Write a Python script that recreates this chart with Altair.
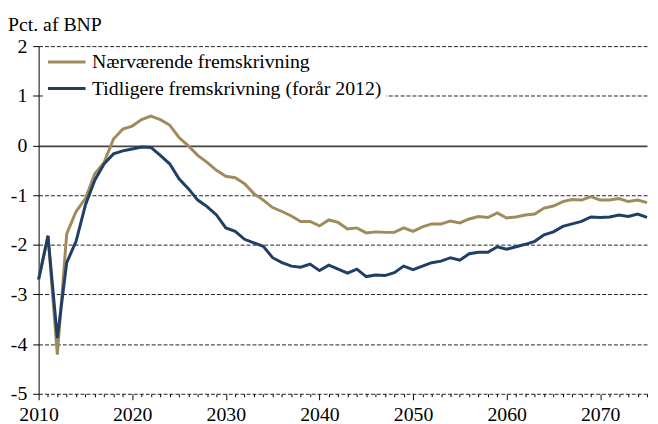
import altair as alt
import pandas as pd

years = list(range(2010, 2076))

naervaerende = [
    -2.70, -1.82, -4.21, -1.78, -1.33, -1.07, -0.57, -0.34, 0.13, 0.33,
    0.39, 0.52, 0.59, 0.52, 0.41, 0.16, -0.01, -0.20, -0.34, -0.50,
    -0.62, -0.65, -0.77, -0.97, -1.10, -1.25, -1.33, -1.42, -1.53, -1.53,
    -1.62, -1.50, -1.55, -1.68, -1.66, -1.76, -1.74, -1.75, -1.75, -1.66,
    -1.73, -1.64, -1.58, -1.58, -1.52, -1.56, -1.48, -1.43, -1.45, -1.36,
    -1.46, -1.44, -1.40, -1.38, -1.26, -1.22, -1.13, -1.09, -1.10, -1.03,
    -1.10, -1.10, -1.07, -1.13, -1.10, -1.15,
]

tidligere = [
    -2.70, -1.82, -3.88, -2.36, -1.93, -1.20, -0.70, -0.37, -0.17, -0.11,
    -0.07, -0.03, -0.04, -0.20, -0.37, -0.67, -0.87, -1.10, -1.23, -1.40,
    -1.66, -1.73, -1.89, -1.96, -2.03, -2.26, -2.36, -2.43, -2.45, -2.39,
    -2.52, -2.41, -2.49, -2.57, -2.49, -2.64, -2.61, -2.62, -2.56, -2.43,
    -2.50, -2.43, -2.36, -2.33, -2.26, -2.31, -2.18, -2.15, -2.15, -2.04,
    -2.09, -2.04, -1.99, -1.93, -1.80, -1.74, -1.63, -1.58, -1.53, -1.44,
    -1.45, -1.44, -1.40, -1.43, -1.38, -1.45,
]

series_names = ["Nærværende fremskrivning", "Tidligere fremskrivning (forår 2012)"]
series_colors = ["#A08B5C", "#1F3F66"]
y_ticks = [-5, -4, -3, -2, -1, 0, 1, 2]
title_text = "Pct. af BNP"

FONT = "'Liberation Serif', 'Times New Roman', Times, serif"
FS = 20

df = pd.DataFrame({
    "year": years + years,
    "value": naervaerende + tidligere,
    "series": [series_names[0]] * len(years) + [series_names[1]] * len(years),
})

lines = alt.Chart(df).mark_line(strokeWidth=3).encode(
    x=alt.X(
        "year:Q",
        scale=alt.Scale(domain=[2010, 2075], nice=False, zero=False),
        axis=alt.Axis(
            title=None,
            values=years,
            labelExpr="datum.value % 10 == 0 ? datum.value : ''",
            labelFlush=False,
            labelOverlap=False,
            labelFont=FONT,
            labelFontSize=FS,
            labelColor="black",
            labelPadding=5,
            tickColor="black",
            tickSize={"condition": {"test": "datum.value % 10 == 0", "value": 6}, "value": 3},
            domain=False,
            grid=False,
        ),
    ),
    y=alt.Y(
        "value:Q",
        scale=alt.Scale(domain=[-5, 2], nice=False, zero=False),
        axis=alt.Axis(
            title=None,
            values=y_ticks,
            labelExpr="datum.value < 0 ? '-' + abs(datum.value) : '' + datum.value",
            labelFont=FONT,
            labelFontSize=FS,
            labelColor="black",
            labelPadding=6,
            tickColor="black",
            tickSize=6,
            domain=True,
            domainColor="black",
            domainWidth=1,
            grid=True,
            gridColor={"condition": {"test": "datum.value === 0", "value": "#444444"}, "value": "#222222"},
            gridDash={"condition": {"test": "datum.value === 0", "value": []}, "value": [4, 2]},
            gridWidth={"condition": {"test": "datum.value === 0", "value": 1.6}, "value": 1},
            gridOpacity=1,
        ),
    ),
    color=alt.Color(
        "series:N",
        scale=alt.Scale(domain=series_names, range=series_colors),
        legend=alt.Legend(
            orient="none",
            legendX=5,
            legendY=2,
            title=None,
            symbolType="M-1,0L3,0",
            symbolSize=361,
            symbolStrokeWidth=3,
            labelFont=FONT,
            labelFontSize=FS,
            labelColor="black",
            labelLimit=0,
            labelOffset=24,
            rowPadding=6,
            padding=3,
            fillColor="white",
            strokeColor="white",
        ),
    ),
)

title_layer = alt.Chart(pd.DataFrame({"t": [title_text]})).mark_text(
    font=FONT, fontSize=FS, align="left", baseline="alphabetic", color="black"
).encode(
    text="t:N",
    x=alt.value(-31),
    y=alt.value(-15),
)

chart = alt.layer(lines, title_layer).properties(
    width=616,
    height=352,
    padding={"left": 31, "top": 36, "right": 3, "bottom": 28},
    autosize=alt.AutoSizeParams(type="none"),
    background="white",
).configure_view(stroke=None)

chart.save("out.html", embed_options={"renderer": "svg", "actions": False})
